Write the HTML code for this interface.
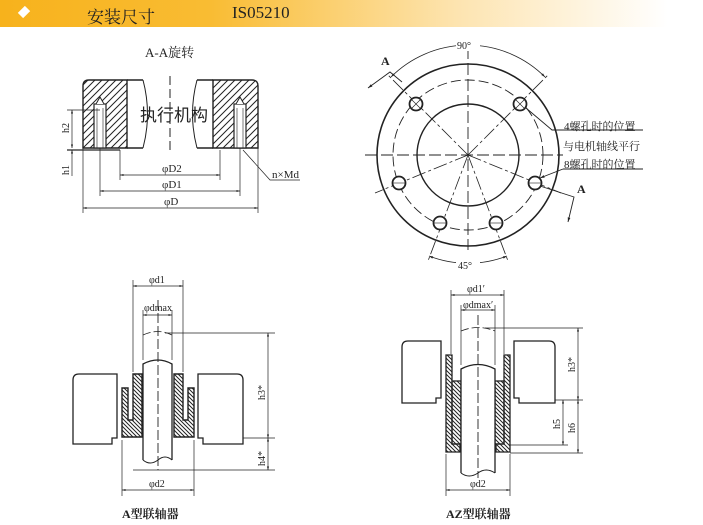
<!DOCTYPE html>
<html><head><meta charset="utf-8">
<style>
html,body{margin:0;padding:0;background:#fff;}
body{width:703px;height:525px;overflow:hidden;position:relative;font-family:"Liberation Serif","Noto Serif CJK SC",serif;}
.hdr{position:absolute;left:0;top:0;width:703px;height:27px;background:linear-gradient(to right,#f7b21c 0%,#f9bc33 30%,#fde4b0 65%,#fff 95%);}
.dia{position:absolute;left:19px;top:7px;width:10px;height:10px;background:#fff;transform:rotate(45deg) scaleX(.75);}
.t1{position:absolute;left:87px;top:3px;font-size:17px;color:#222;font-family:"Liberation Serif","Noto Serif CJK SC",serif;}
.t2{position:absolute;left:232px;top:3px;font-size:17px;color:#222;}
svg{position:absolute;left:0;top:0;}
</style></head><body>
<div class="hdr"></div><div class="dia"></div>
<div class="t1">安装尺寸</div><div class="t2">IS05210</div>
<svg width="703" height="525" viewBox="0 0 703 525" font-family="Liberation Serif, Noto Serif CJK SC, serif" fill="none" stroke="#222">
<defs>
<pattern id="h" width="7" height="7" patternUnits="userSpaceOnUse"><path d="M0,7 L7,0 M-2,2 L2,-2 M5,9 L9,5" stroke="#222" stroke-width="1"/></pattern>
<pattern id="h2" width="4" height="4" patternUnits="userSpaceOnUse"><path d="M0,0 L4,4 M-1,3 L1,5 M3,-1 L5,1" stroke="#222" stroke-width="1"/></pattern>
<marker id="a" viewBox="0 0 10 10" refX="10" refY="5" markerWidth="7" markerHeight="5" orient="auto-start-reverse"><path d="M0,2 L10,5 L0,8 z" fill="#222" stroke="none"/></marker>
</defs>

<!-- ===== Top-left A-A section ===== -->
<text x="145" y="57" font-size="13" fill="#222" stroke="none">A-A旋转</text>
<path d="M83,148 V86 Q83,80 89,80 H127 V148 Z" fill="url(#h)" stroke-width="1.4"/>
<path d="M127,80 H143 M127,148 H143" stroke-width="1.4"/>
<path d="M143,80 Q152,114 143,148" stroke-width="1"/>
<path d="M258,148 V86 Q258,80 252,80 H213 V148 Z" fill="url(#h)" stroke-width="1.4"/>
<path d="M213,80 H197 M213,148 H197" stroke-width="1.4"/>
<path d="M197,80 Q188,114 197,148" stroke-width="1"/>
<rect x="94" y="104" width="12" height="44" fill="#fff" stroke-width="1.2"/>
<path d="M96,104 L100,97 L104,104" fill="#fff" stroke-width="1"/>
<line x1="97" y1="108" x2="97" y2="148" stroke-width=".6"/><line x1="103" y1="108" x2="103" y2="148" stroke-width=".6"/>
<rect x="234" y="104" width="12" height="44" fill="#fff" stroke-width="1.2"/>
<path d="M236,104 L240,97 L244,104" fill="#fff" stroke-width="1"/>
<line x1="237" y1="108" x2="237" y2="148" stroke-width=".6"/><line x1="243" y1="108" x2="243" y2="148" stroke-width=".6"/>
<line x1="170" y1="76" x2="170" y2="152" stroke-dasharray="9,4" stroke-width="1"/>
<text x="140" y="121" font-size="17" fill="#222" stroke="none" font-family="Liberation Sans, Noto Sans CJK SC, sans-serif">执行机构</text>
<line x1="67" y1="150" x2="120" y2="150" stroke="#777" stroke-width="2"/>
<line x1="67" y1="110" x2="100" y2="110" stroke-width=".7"/>
<line x1="72" y1="110" x2="72" y2="148" stroke-width=".7" marker-start="url(#a)" marker-end="url(#a)"/>
<line x1="72" y1="150" x2="72" y2="176" stroke-width=".7" marker-start="url(#a)"/>
<text transform="translate(69,133) rotate(-90)" font-size="10" fill="#222" stroke="none">h2</text>
<text transform="translate(69,175) rotate(-90)" font-size="10" fill="#222" stroke="none">h1</text>
<g stroke-width=".7">
<line x1="120" y1="150" x2="120" y2="180"/><line x1="220" y1="150" x2="220" y2="180"/>
<line x1="100" y1="148" x2="100" y2="196"/><line x1="240" y1="148" x2="240" y2="196"/>
<line x1="83" y1="148" x2="83" y2="213"/><line x1="258" y1="148" x2="258" y2="213"/>
<line x1="120" y1="175" x2="220" y2="175" marker-start="url(#a)" marker-end="url(#a)"/>
<line x1="100" y1="191" x2="240" y2="191" marker-start="url(#a)" marker-end="url(#a)"/>
<line x1="83" y1="208" x2="258" y2="208" marker-start="url(#a)" marker-end="url(#a)"/>
<polyline points="243,150 270,180 300,180"/>
</g>
<g fill="#222" stroke="none" font-size="11">
<text x="162" y="172">φD2</text><text x="162" y="188">φD1</text><text x="164" y="205">φD</text>
<text x="272" y="178">n×Md</text></g>

<!-- ===== Circle view ===== -->
<g transform="translate(468,155)">
<circle r="91" stroke-width="1.6"/>
<circle r="51" stroke-width="1.4"/>
<circle r="75" stroke-width=".9" stroke-dasharray="10,4"/>
<line x1="-103" y1="0" x2="95" y2="0" stroke-dasharray="12,4" stroke-width=".9"/>
<line x1="0" y1="-108" x2="0" y2="95" stroke-dasharray="12,4" stroke-width=".9"/>
<g stroke-width=".8" stroke-dasharray="14,3,3,3">
<line x1="0" y1="0" x2="-80" y2="-80"/><line x1="0" y1="0" x2="80" y2="-80"/>
<line x1="0" y1="0" x2="-93" y2="38"/><line x1="0" y1="0" x2="93" y2="38"/>
<line x1="0" y1="0" x2="-40" y2="106"/><line x1="0" y1="0" x2="40" y2="106"/>
</g>
<g stroke-width="1.8" fill="#fff">
<circle cx="-52" cy="-51" r="6.5"/><circle cx="52" cy="-51" r="6.5"/>
<circle cx="-69" cy="28" r="6.5"/><circle cx="67" cy="28" r="6.5"/>
<circle cx="-28" cy="68" r="6.5"/><circle cx="28" cy="68" r="6.5"/>
</g>
<g stroke-width=".6">
<line x1="-56" y1="-55" x2="-48" y2="-47"/><line x1="-56" y1="-47" x2="-48" y2="-55"/>
<line x1="48" y1="-55" x2="56" y2="-47"/><line x1="48" y1="-47" x2="56" y2="-55"/>
<line x1="-75" y1="28" x2="-63" y2="28"/><line x1="61" y1="28" x2="73" y2="28"/>
<line x1="-34" y1="68" x2="-22" y2="68"/><line x1="22" y1="68" x2="34" y2="68"/>
</g>
<path d="M-77,-78 A109,109 0 0 1 77,-78" stroke-width=".8" marker-start="url(#a)" marker-end="url(#a)"/>
<path d="M-39,101 A108,108 0 0 0 39,101" stroke-width=".8" marker-start="url(#a)" marker-end="url(#a)"/>
<rect x="-12" y="-116" width="24" height="12" fill="#fff" stroke="none"/>
<rect x="-12" y="103" width="24" height="12" fill="#fff" stroke="none"/>
</g>
<g fill="#222" stroke="none" font-size="10">
<text x="457" y="49">90°</text><text x="458" y="269">45°</text>
<text x="381" y="65" font-size="12" font-weight="bold">A</text>
<text x="577" y="193" font-size="12" font-weight="bold">A</text>
<text x="564" y="130" font-size="11">4螺孔时的位置</text>
<text x="563" y="150" font-size="11">与电机轴线平行</text>
<text x="564" y="168" font-size="11">8螺孔时的位置</text>
</g>
<g stroke-width=".9">
<polyline points="402,82 390,72 368,88" marker-end="url(#a)"/>
<polyline points="540,186 574,197 568,222" marker-end="url(#a)"/>
<polyline points="526,108 552,130 643,130"/>
<line x1="563" y1="169" x2="643" y2="169"/>
<line x1="563" y1="169" x2="540" y2="178" marker-end="url(#a)"/>
</g>

<!-- ===== A type coupling ===== -->
<path d="M73,444 V380 Q73,374 79,374 H117 V438 H112 V444 Z" stroke-width="1.3"/>
<path d="M243,444 V380 Q243,374 237,374 H198 V438 H203 V444 Z" stroke-width="1.3"/>
<path d="M122,388 H128 V420 H133 V374 H142 V437 H122 Z" fill="url(#h2)" stroke-width="1.4"/>
<path d="M194,388 H188 V420 H183 V374 H174 V437 H194 Z" fill="url(#h2)" stroke-width="1.4"/>
<path d="M143,460 V364 Q158,356 172,364 V460" fill="#fff" stroke-width="1.3"/>
<path d="M143,460 Q150,466 158,460 Q165,454 172,460" stroke-width="1"/>
<path d="M143,335 Q158,328 172,335" stroke-width=".8" stroke-dasharray="8,3"/>
<line x1="158" y1="300" x2="158" y2="470" stroke-dasharray="10,3" stroke-width=".9"/>
<g stroke-width=".7">
<line x1="133" y1="280" x2="133" y2="372"/><line x1="183" y1="280" x2="183" y2="372"/>
<line x1="143" y1="310" x2="143" y2="360"/><line x1="172" y1="310" x2="172" y2="360"/>
<line x1="133" y1="286" x2="183" y2="286" marker-start="url(#a)" marker-end="url(#a)"/>
<line x1="143" y1="315" x2="172" y2="315" marker-start="url(#a)" marker-end="url(#a)"/>
<line x1="165" y1="333" x2="275" y2="333"/><line x1="243" y1="438" x2="275" y2="438"/>
<line x1="133" y1="470" x2="275" y2="470"/>
<line x1="268" y1="333" x2="268" y2="438" marker-start="url(#a)" marker-end="url(#a)"/>
<line x1="268" y1="438" x2="268" y2="470" marker-start="url(#a)" marker-end="url(#a)"/>
<line x1="122" y1="440" x2="122" y2="496"/><line x1="194" y1="440" x2="194" y2="496"/>
<line x1="122" y1="490" x2="194" y2="490" marker-start="url(#a)" marker-end="url(#a)"/>
</g>
<g fill="#222" stroke="none" font-size="10">
<text x="149" y="283">φd1</text><text x="144" y="311">φdmax</text>
<text x="149" y="487">φd2</text>
<text transform="translate(265,400) rotate(-90)">h3*</text>
<text transform="translate(265,466) rotate(-90)">h4*</text>
<text x="122" y="518" font-size="12" font-weight="bold">A型联轴器</text>
</g>

<!-- ===== AZ type coupling ===== -->
<path d="M402,403 V347 Q402,341 408,341 H441 V398 H436 V403 Z" stroke-width="1.3"/>
<path d="M555,403 V347 Q555,341 549,341 H514 V398 H519 V403 Z" stroke-width="1.3"/>
<path d="M446,355 H452 V444 H460 V452 H446 Z" fill="url(#h2)" stroke-width="1.3"/>
<rect x="452" y="381" width="9" height="63" fill="url(#h2)" stroke-width="1.3"/>
<path d="M510,355 H504 V444 H496 V452 H510 Z" fill="url(#h2)" stroke-width="1.3"/>
<rect x="495" y="381" width="9" height="63" fill="url(#h2)" stroke-width="1.3"/>
<path d="M461,473 V369 Q478,360 495,369 V473" fill="#fff" stroke-width="1.3"/>
<path d="M461,473 Q469,479 478,473 Q486,467 495,473" stroke-width="1"/>
<path d="M461,331 Q478,324 495,331" stroke-width=".8" stroke-dasharray="8,3"/>
<line x1="478" y1="315" x2="478" y2="478" stroke-dasharray="10,3" stroke-width=".9"/>
<g stroke-width=".7">
<line x1="451" y1="290" x2="451" y2="354"/><line x1="504" y1="290" x2="504" y2="354"/>
<line x1="461" y1="305" x2="461" y2="365"/><line x1="495" y1="305" x2="495" y2="365"/>
<line x1="451" y1="295" x2="504" y2="295" marker-start="url(#a)" marker-end="url(#a)"/>
<line x1="461" y1="310" x2="495" y2="310" marker-start="url(#a)" marker-end="url(#a)"/>
<line x1="485" y1="328" x2="583" y2="328"/><line x1="555" y1="400" x2="583" y2="400"/>
<line x1="510" y1="445" x2="568" y2="445"/><line x1="510" y1="453" x2="583" y2="453"/>
<line x1="578" y1="328" x2="578" y2="400" marker-start="url(#a)" marker-end="url(#a)"/>
<line x1="578" y1="400" x2="578" y2="453" marker-start="url(#a)" marker-end="url(#a)"/>
<line x1="563" y1="400" x2="563" y2="445" marker-start="url(#a)" marker-end="url(#a)"/>
<line x1="446" y1="454" x2="446" y2="496"/><line x1="510" y1="454" x2="510" y2="496"/>
<line x1="446" y1="490" x2="510" y2="490" marker-start="url(#a)" marker-end="url(#a)"/>
</g>
<g fill="#222" stroke="none" font-size="10">
<text x="467" y="292">φd1′</text><text x="463" y="308">φdmax′</text>
<text x="470" y="487">φd2</text>
<text transform="translate(575,372) rotate(-90)">h3*</text>
<text transform="translate(575,433) rotate(-90)">h6</text>
<text transform="translate(560,429) rotate(-90)">h5</text>
<text x="446" y="518" font-size="12" font-weight="bold">AZ型联轴器</text>
</g>
</svg>
</body></html>
